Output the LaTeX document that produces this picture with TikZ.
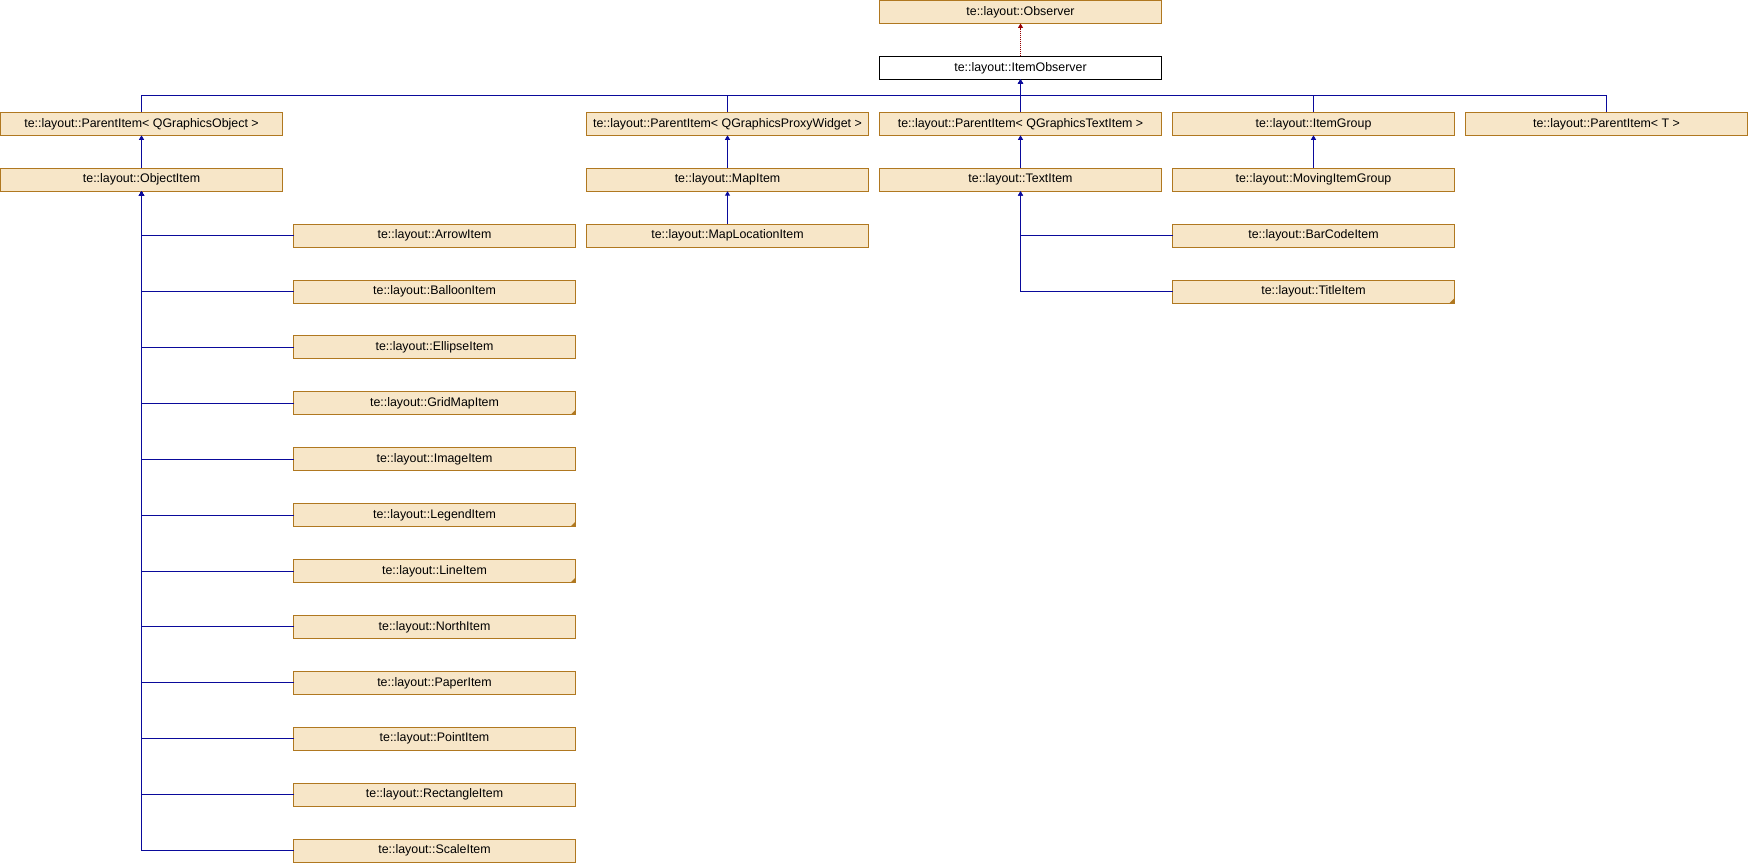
\documentclass[tikz,border=0pt]{standalone}
\usepackage{fontspec}
\setmainfont{Liberation Sans}
\usetikzlibrary{arrows.meta, positioning, calc}
\definecolor{boxfill}{RGB}{247,230,200}
\definecolor{boxline}{RGB}{176,120,32}
\definecolor{inhblue}{RGB}{10,10,155}
\definecolor{tmplred}{RGB}{150,0,0}
\tikzset{
  cls/.style={rectangle, draw=boxline, line width=1pt, fill=boxfill,
              minimum width=282pt, minimum height=23pt, inner sep=0pt,
              outer sep=0pt, font=\fontsize{12.4}{14}\selectfont},
  current/.style={cls, draw=black, fill=white},
  trunc/.style={path picture={\fill[boxline] (path picture bounding box.south east)
                -- ++(-5pt,0) -- ++(5pt,5pt) -- cycle;}},
  inh/.style={-{Triangle[length=4.5pt, width=5pt]}, line width=1pt, color=inhblue},
  tmpl/.style={-{Triangle[length=4.5pt, width=5pt]}, line width=1pt, color=tmplred,
               dash pattern=on 1pt off 1pt},
}
\begin{document}
\begin{tikzpicture}[node distance=32.9pt and 11pt]
  \useasboundingbox (0,0) rectangle (1748pt,-864pt);
  \node[cls] (obs) at (1020.5pt,-12pt) {te::layout::Observer};
  \node[current, below=of obs] (io) {te::layout::ItemObserver};
  % first level
  \node[cls, below=of io] (ptext) {te::layout::ParentItem< QGraphicsTextItem >};
  \node[cls, left=of ptext] (pproxy) {te::layout::ParentItem< QGraphicsProxyWidget >};
  \node[cls, left=304pt of pproxy] (pobj) {te::layout::ParentItem< QGraphicsObject >};
  \node[cls, right=of ptext] (igroup) {te::layout::ItemGroup};
  \node[cls, right=of igroup] (ptmpl) {te::layout::ParentItem< T >};
  % second level
  \node[cls, below=of pobj] (objitem) {te::layout::ObjectItem};
  \node[cls, below=of pproxy] (mapitem) {te::layout::MapItem};
  \node[cls, below=of ptext] (textitem) {te::layout::TextItem};
  \node[cls, below=of igroup] (moving) {te::layout::MovingItemGroup};
  \node[cls, below=of mapitem] (maploc) {te::layout::MapLocationItem};
  \node[cls, below=of moving] (barcode) {te::layout::BarCodeItem};
  \node[cls, trunc, below=of barcode] (title) {te::layout::TitleItem};
  % object items
  \node[cls, below right=of objitem] (arrow) {te::layout::ArrowItem};
  \node[cls, below=of arrow] (balloon) {te::layout::BalloonItem};
  \node[cls, below=of balloon] (ellipse) {te::layout::EllipseItem};
  \node[cls, trunc, below=of ellipse] (gridmap) {te::layout::GridMapItem};
  \node[cls, below=of gridmap] (image) {te::layout::ImageItem};
  \node[cls, trunc, below=of image] (legend) {te::layout::LegendItem};
  \node[cls, trunc, below=of legend] (line) {te::layout::LineItem};
  \node[cls, below=of line] (north) {te::layout::NorthItem};
  \node[cls, below=of north] (paper) {te::layout::PaperItem};
  \node[cls, below=of paper] (point) {te::layout::PointItem};
  \node[cls, below=of point] (rect) {te::layout::RectangleItem};
  \node[cls, below=of rect] (scale) {te::layout::ScaleItem};

  \coordinate (bus) at ($(io.south)!0.5!(ptext.north)$);
  \draw[tmpl] (io) -- (obs);
  \draw[inh] (ptext) -- (io);
  \foreach \c in {pobj, pproxy, igroup, ptmpl}
    \draw[inh] (\c.north) |- (bus) -- (io.south);
  \draw[inh] (objitem) -- (pobj);
  \draw[inh] (mapitem) -- (pproxy);
  \draw[inh] (maploc) -- (mapitem);
  \draw[inh] (textitem) -- (ptext);
  \draw[inh] (moving) -- (igroup);
  \draw[inh] (barcode.west) -| (textitem.south);
  \draw[inh] (title.west) -| (textitem.south);
  \foreach \c in {arrow, balloon, ellipse, gridmap, image, legend, line,
                  north, paper, point, rect, scale}
    \draw[inh] (\c.west) -| (objitem.south);
\end{tikzpicture}
\end{document}
